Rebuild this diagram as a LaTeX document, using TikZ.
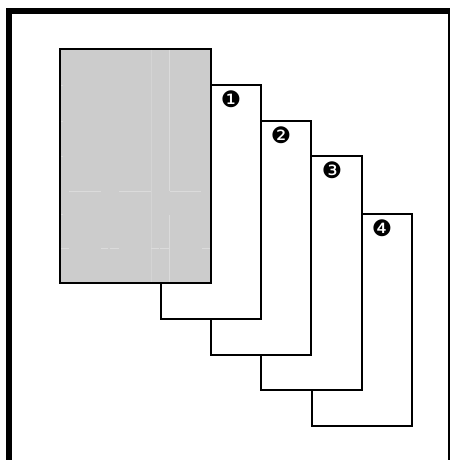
\documentclass[tikz,border=0pt]{standalone}
\usepackage{fontspec}
\newfontfamily\dejavu{DejaVu Sans}
\begin{document}
\begin{tikzpicture}[x=0.75pt,y=-0.75pt,
  sheet/.style={draw=black,fill=white,line width=1.5pt},
  greysheet/.style={draw=black,fill=black!20,line width=1.5pt},
  faint/.style={draw=black!14,line width=0.75pt},
  num/.style={inner sep=0pt,font=\dejavu\fontsize{17}{17}\selectfont}]
\useasboundingbox (0,0) rectangle (450,460);
\fill[white] (0,0) rectangle (450,460);
% frame
\fill[black] (6,8) rectangle (448,14);
\fill[black] (6,8) rectangle (12,460);
\fill[black] (448,8) rectangle (450,460);
% sheets
\draw[sheet] (312,214) rectangle (412,426);
\draw[sheet] (261,156) rectangle (362,390);
\draw[sheet] (211,121) rectangle (311,355);
\draw[sheet] (161,85) rectangle (261,319);
\draw[greysheet] (60,49) rectangle (211,283);
% faint marks in the grey sheet
\draw[faint] (169,50) -- (169,191) (169,215) -- (169,282);
\draw[faint,draw=black!17] (151.5,50) -- (151.5,282);
\draw[faint] (69,191) -- (101,191) (119,191) -- (151,191) (170,191) -- (201,191);
\draw[faint] (61,248) -- (69,248) (101,248) -- (108,248) (110,248) -- (119,248)
  (151,248) -- (159,248) (160,248) -- (169,248) (202,248) -- (210,248);
\draw[faint] (61,85) -- (63,85) (61,121) -- (63,121) (61,156) -- (63,156) (61,214) -- (63,214);
% numbers
\node[num] (n1) at (231,99) {❶};
\node[num] (n2) at (281,135) {❷};
\node[num] (n3) at (332,170) {❸};
\node[num] (n4) at (382,228) {❹};
\end{tikzpicture}
\end{document}
